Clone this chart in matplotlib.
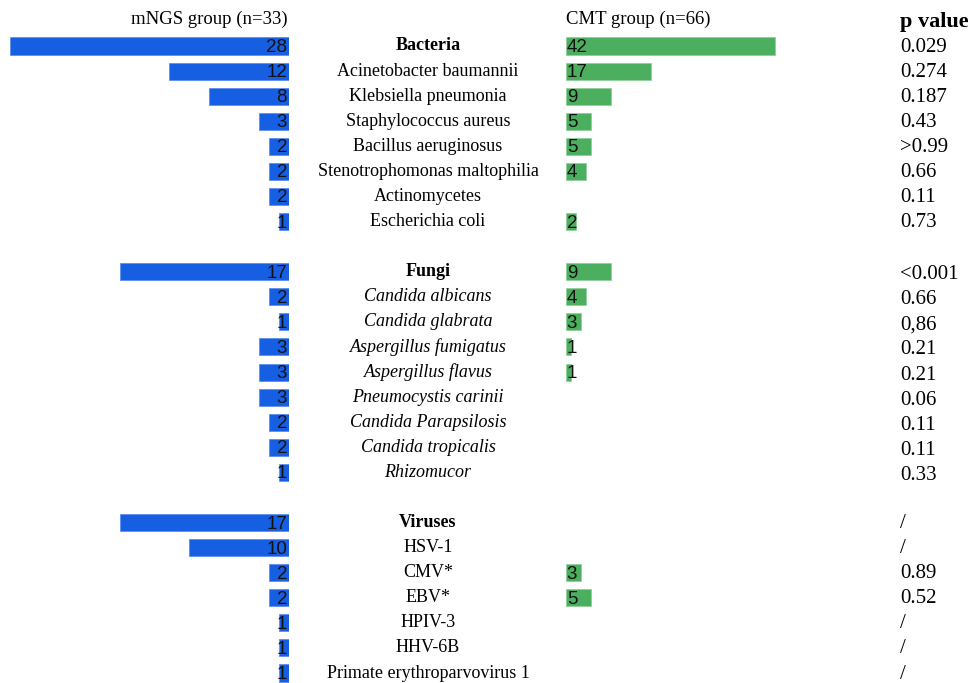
import matplotlib.pyplot as plt
import matplotlib.transforms as mtransforms

# data
bact_names = ["Bacteria", "Acinetobacter baumannii", "Klebsiella pneumonia",
              "Staphylococcus aureus", "Bacillus aeruginosus",
              "Stenotrophomonas maltophilia", "Actinomycetes", "Escherichia coli"]
bact_mngs = [28, 12, 8, 3, 2, 2, 2, 1]
bact_cmt = [42, 17, 9, 5, 5, 4, None, 2]
bact_p = ["0.029", "0.274", "0.187", "0.43", ">0.99", "0.66", "0.11", "0.73"]

fungi_names = ["Fungi", "Candida albicans", "Candida glabrata",
               "Aspergillus fumigatus", "Aspergillus flavus",
               "Pneumocystis carinii", "Candida Parapsilosis",
               "Candida tropicalis", "Rhizomucor"]
fungi_mngs = [17, 2, 1, 3, 3, 3, 2, 2, 1]
fungi_cmt = [9, 4, 3, 1, 1, None, None, None, None]
fungi_p = ["<0.001", "0.66", "0,86", "0.21", "0.21", "0.06", "0.11", "0.11", "0.33"]

virus_names = ["Viruses", "HSV-1", "CMV*", "EBV*", "HPIV-3", "HHV-6B",
               "Primate erythroparvovirus 1"]
virus_mngs = [17, 10, 2, 2, 1, 1, 1]
virus_cmt = [None, None, 3, 5, None, None, None]
virus_p = ["/", "/", "0.89", "0.52", "/", "/", "/"]

BLUE = "#165ee2"
GREEN = "#4caf5f"
W, H = 971, 683

fig = plt.figure(figsize=(W / 100, H / 100), dpi=100)

# row layout (one empty row between groups)
groups = [(bact_names, bact_mngs, bact_cmt, bact_p, False),
          (fungi_names, fungi_mngs, fungi_cmt, fungi_p, True),
          (virus_names, virus_mngs, virus_cmt, virus_p, False)]

row_top = 46
row_step = 25.08
ylim = ((H - row_top) / row_step, -row_top / row_step)

axl = fig.add_axes([0, 0, 289 / W, 1])
axr = fig.add_axes([566 / W, 0, 330 / W, 1])
axl.set_xlim(289 / 9.96, 0)
axr.set_xlim(0, 330 / 4.98)
for ax in (axl, axr):
    ax.set_ylim(*ylim)
    ax.axis("off")

trans = mtransforms.blended_transform_factory(fig.transFigure, axl.transData)

serif = "Liberation Serif"
sans = "Liberation Sans"

y = 0
for names, mngs, cmt, pvals, italic in groups:
    for i, name in enumerate(names):
        head = i == 0
        axl.barh(y, mngs[i], height=0.68, color=BLUE, edgecolor="#5d8ff0", linewidth=0.6)
        axl.text(0.2, y + 0.06, str(mngs[i]), ha="right", va="center", fontsize=13.5,
                 family=sans, color="#111111")
        if cmt[i] is not None:
            axr.barh(y, cmt[i], height=0.68, color=GREEN, edgecolor="#8fd09c", linewidth=0.6)
            axr.text(0.15, y + 0.06, str(cmt[i]), ha="left", va="center", fontsize=13.5,
                     family=sans, color="#111111")
        style = "italic" if (italic and not head) else "normal"
        weight = "bold" if head else "normal"
        fig.text(428 / W, y, name, transform=trans, ha="center", va="center",
                 fontsize=13, family=serif, style=style, weight=weight)
        dy = 0.12 if italic else 0.04
        fig.text(900 / W, y + dy, pvals[i], transform=trans, ha="left", va="center",
                 fontsize=15, family=serif)
        y += 1
    y += 1

# column headers
fig.text(288 / W, -1.05, "mNGS group (n=33)", transform=trans, ha="right",
         va="center", fontsize=13.5, family=serif)
fig.text(566 / W, -1.05, "CMT group (n=66)", transform=trans, ha="left",
         va="center", fontsize=13.5, family=serif)
fig.text(900 / W, -0.95, "p value", transform=trans, ha="left", va="center",
         fontsize=16, family=serif, weight="bold")

fig.savefig("out.png", dpi=100)
